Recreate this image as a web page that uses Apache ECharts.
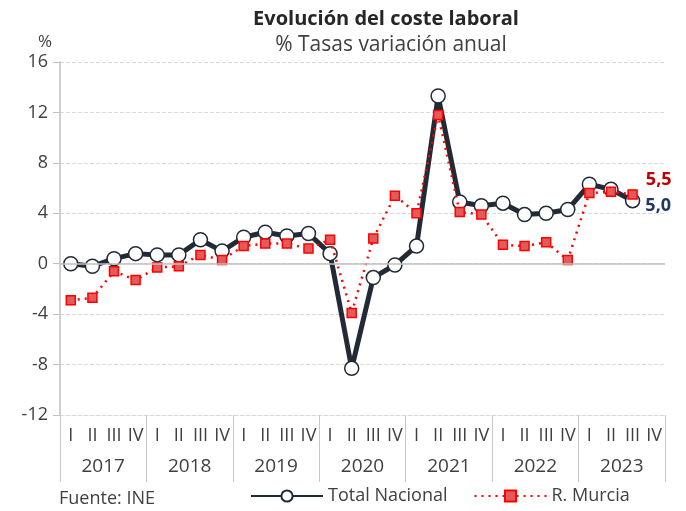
<!DOCTYPE html>
<html>
<head>
<meta charset="utf-8">
<script src="https://cdn.jsdelivr.net/npm/echarts@6/dist/echarts.min.js"></script>
<style>html,body{margin:0;padding:0;background:#fff}#c{width:686px;height:511px}</style>
</head>
<body>
<div id="c"></div>
<script>
const years = ['2017','2018','2019','2020','2021','2022','2023'];
const quarters = ['I','II','III','IV'];
const totalNacional = [0.0,-0.2,0.4,0.8, 0.7,0.7,1.9,1.0, 2.1,2.5,2.2,2.4, 0.8,-8.3,-1.1,-0.1, 1.4,13.3,4.9,4.6, 4.8,3.9,4.0,4.3, 6.3,5.9,5.0,null];
const murcia = [-2.9,-2.7,-0.6,-1.3, -0.3,-0.2,0.7,0.3, 1.4,1.6,1.6,1.2, 1.9,-3.9,2.0,5.4, 4.0,11.8,4.1,3.9, 1.5,1.4,1.7,0.3, 5.6,5.7,5.5,null];
const yTicks = [16,12,8,4,0,-4,-8,-12];

const cats = [];
years.forEach(y => quarters.forEach(q => cats.push(y + '-' + q)));
const FONT = '"Open Sans", "Noto Sans", sans-serif';
const TXT = '#404040';
const lastIdx = 26;

const chart = echarts.init(document.getElementById('c'), null, {renderer: 'canvas'});
chart.setOption({
  animation: false,
  textStyle: {fontFamily: FONT},
  title: [
    {text: 'Evolución del coste laboral', left: 381, top: 4, textAlign: 'center',
     textStyle: {fontSize: 20, fontWeight: 'bold', color: '#262626', fontFamily: FONT}},
    {text: '% Tasas variación anual', left: 386, top: 30, textAlign: 'center',
     textStyle: {fontSize: 21, fontWeight: 'normal', color: TXT, fontFamily: FONT}},
    {text: '%', left: 33, top: 29, textStyle: {fontSize: 17, fontWeight: 'normal', color: TXT, fontFamily: FONT}},
    {text: 'Fuente: INE', left: 54, top: 485, textStyle: {fontSize: 18, fontWeight: 'normal', color: TXT, fontFamily: FONT}}
  ],
  grid: {left: 60, right: 21, top: 62, bottom: 96},
  legend: {
    left: 245, top: 482, itemWidth: 72, itemHeight: 14, itemGap: 26,
    textStyle: {fontSize: 18, color: TXT, fontFamily: FONT},
    data: ['Total Nacional', 'R. Murcia']
  },
  xAxis: [
    {type: 'category', data: cats, boundaryGap: true, position: 'bottom',
     axisLine: {show: false}, axisTick: {show: false},
     axisLabel: {interval: 0, margin: 12, fontSize: 18, color: TXT, fontFamily: FONT,
       formatter: v => v.split('-')[1]}},
    {type: 'category', data: years, boundaryGap: true, position: 'bottom', gridIndex: 0,
     axisLine: {show: true, lineStyle: {color: '#d9d9d9', width: 1, type: 'dashed'}},
     axisTick: {show: true, inside: false, length: 67, interval: 0, lineStyle: {color: '#c8c8c8'}},
     axisLabel: {interval: 0, margin: 42, fontSize: 19, color: TXT, fontFamily: FONT}}
  ],
  yAxis: {
    type: 'value', min: -12, max: 16, interval: 4,
    axisLine: {show: true, lineStyle: {color: '#bfbfbf', width: 1.5}},
    axisTick: {show: true, length: 7, lineStyle: {color: '#bfbfbf'}},
    axisLabel: {fontSize: 18, color: TXT, margin: 12, fontFamily: FONT},
    splitLine: {show: true, lineStyle: {color: '#d9d9d9', type: 'dashed', width: 1}}
  },
  series: [
    {name: 'Total Nacional', type: 'line', data: totalNacional.map((v, i) => i === lastIdx ? {value: v, label: {show: true}} : v),
     xAxisIndex: 0, z: 3,
     lineStyle: {color: '#222b35', width: 5},
     itemStyle: {color: '#ffffff', borderColor: '#222b35', borderWidth: 1.5},
     symbol: 'circle', symbolSize: 14, showAllSymbol: true,
     label: {show: false, position: 'right', distance: 5, offset: [0, 5],
       formatter: p => p.value.toFixed(1).replace('.', ','),
       fontSize: 18, fontWeight: 'bold', color: '#203864', fontFamily: FONT},
     markLine: {silent: true, symbol: 'none', label: {show: false},
       lineStyle: {color: '#bfbfbf', type: 'solid', width: 1.5}, data: [{yAxis: 0}]}
    },
    {name: 'R. Murcia', type: 'line', data: murcia.map((v, i) => i === lastIdx ? {value: v, label: {show: true}} : v),
     xAxisIndex: 0, z: 4,
     lineStyle: {color: '#ff0000', width: 2.5, type: [2, 5]},
     itemStyle: {color: '#e35a5a', borderColor: '#ff0000', borderWidth: 1.5},
     symbol: 'rect', symbolSize: 9, showAllSymbol: true,
     label: {show: false, position: 'right', distance: 8, offset: [0, -15],
       formatter: p => p.value.toFixed(1).replace('.', ','),
       fontSize: 18, fontWeight: 'bold', color: '#c00000', fontFamily: FONT}
    }
  ]
});
</script>
</body>
</html>
